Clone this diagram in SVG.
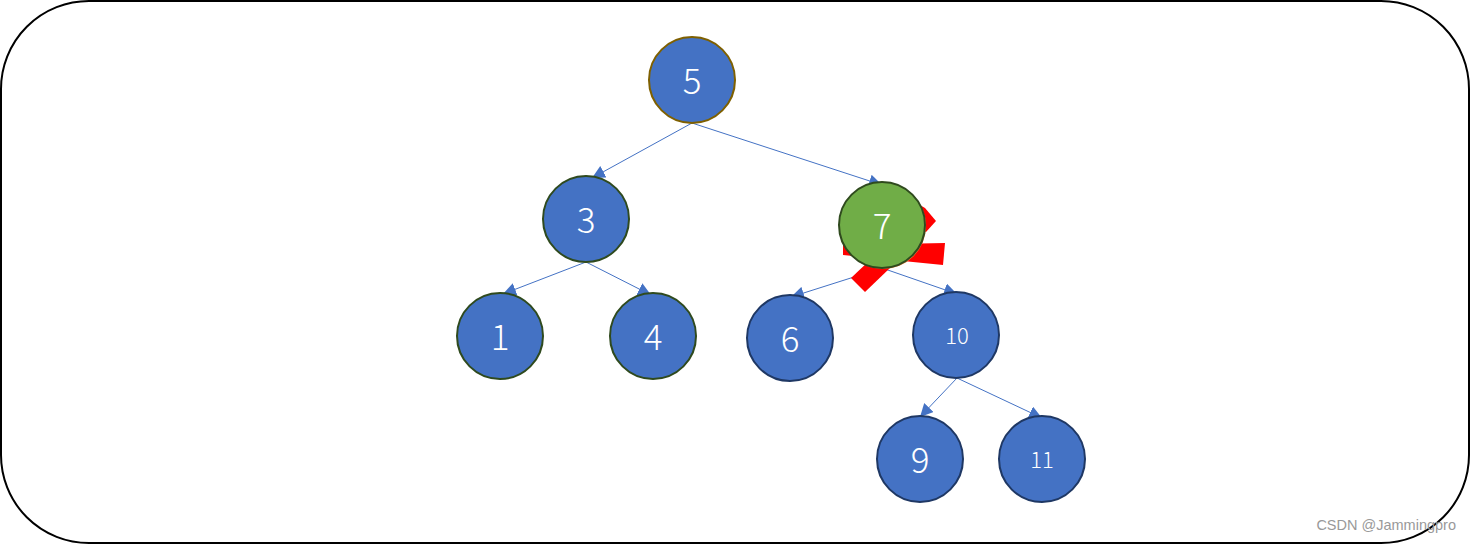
<svg xmlns="http://www.w3.org/2000/svg" width="1470" height="544" viewBox="0 0 1470 544">
<style>
.frame{fill:#fff;stroke:#000;stroke-width:2}
.node{fill:#4472c4;stroke-width:2}
.lbl{fill:#fff;font-family:"Noto Sans CJK SC","Open Sans",sans-serif;font-weight:300;text-anchor:middle;dominant-baseline:central}
.big{font-size:35px}
.small{font-size:22px}
.edge{stroke:#4472c4;stroke-width:1;fill:none;marker-end:url(#arr)}
.red{fill:#ff0000}
</style>
<defs>
<marker id="arr" markerUnits="userSpaceOnUse" markerWidth="13" markerHeight="13" viewBox="0 0 10 10" refX="10" refY="5" orient="auto">
<path d="M0,0 L10,5 L0,10 z" fill="#4472c4"/>
</marker>
</defs>
<rect class="frame" x="1" y="1" width="1468" height="542" rx="88" ry="88"/>
<g id="connectors">
<line class="edge" x1="692" y1="123" x2="592" y2="178"/>
<line class="edge" x1="692" y1="123" x2="882" y2="185"/>
<line class="edge" x1="586" y1="262" x2="503" y2="294"/>
<line class="edge" x1="586" y1="262" x2="651" y2="295"/>
<line class="edge" x1="876" y1="270" x2="791" y2="297"/>
<line class="edge" x1="882" y1="268" x2="957" y2="294"/>
<line class="edge" x1="957" y1="378" x2="920" y2="417"/>
<line class="edge" x1="957" y1="378" x2="1042" y2="418"/>
</g>
<g id="node5">
<circle class="node" cx="692" cy="80" r="43" stroke="#7f6000"/>
<text class="lbl big" x="692" y="78">5</text>
</g>
<g id="node3">
<circle class="node" cx="586" cy="219" r="43" stroke="#2f4a1e"/>
<text class="lbl big" x="586" y="217">3</text>
</g>
<g id="node7">
<polygon class="red" points="908,198 925,208 936,221 926,232 903,226"/>
<polygon class="red" points="843,245 945,243 943,265 843,255"/>
<polygon class="red" points="851,278 865,292 890,268 870,260"/>
<circle cx="883" cy="226" r="43" fill="#ed7d31"/>
<circle cx="882" cy="225" r="43" fill="#70ad47" stroke="#2f4a1e" stroke-width="2"/>
<text class="lbl big" x="882" y="223">7</text>
</g>
<g id="node1">
<circle class="node" cx="500" cy="336" r="43" stroke="#2f4a1e"/>
<text class="lbl big" x="500" y="334">1</text>
</g>
<g id="node4">
<circle class="node" cx="653" cy="336" r="43" stroke="#2f4a1e"/>
<text class="lbl big" x="653" y="334">4</text>
</g>
<g id="node6">
<circle class="node" cx="790" cy="338" r="43" stroke="#1f3864"/>
<text class="lbl big" x="790" y="336">6</text>
</g>
<g id="node10">
<circle class="node" cx="956" cy="335" r="43" stroke="#1f3864"/>
<text class="lbl small" x="957" y="333.5">10</text>
</g>
<g id="node9">
<circle class="node" cx="920" cy="459" r="43" stroke="#1f3864"/>
<text class="lbl big" x="920" y="457">9</text>
</g>
<g id="node11">
<circle class="node" cx="1042" cy="459" r="43" stroke="#1f3864"/>
<text class="lbl small" x="1042" y="457.5">11</text>
</g>
<text x="1456" y="530" font-family="'Liberation Sans',sans-serif" font-size="14.5" fill="#999" text-anchor="end">CSDN @Jammingpro</text>
</svg>
